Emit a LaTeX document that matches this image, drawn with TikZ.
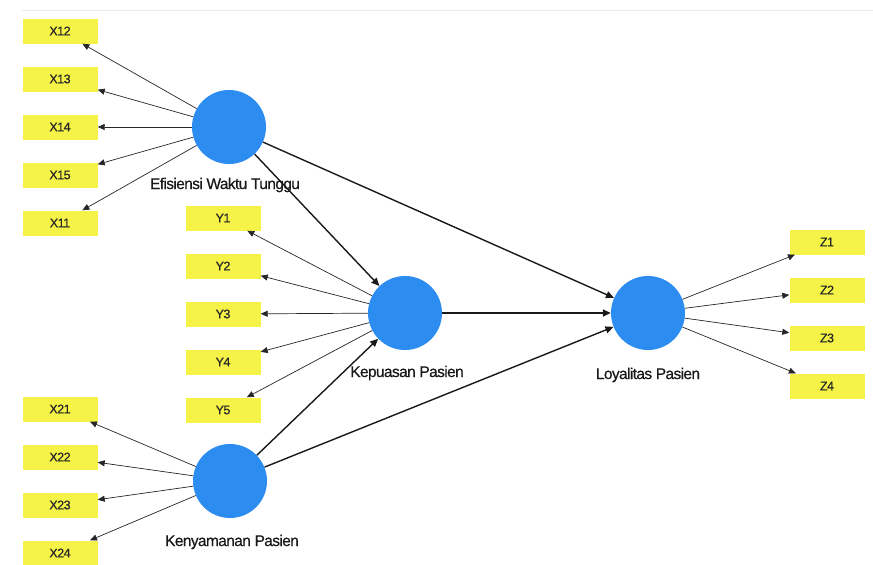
\documentclass[tikz,border=0pt]{standalone}
\usepackage{fontspec}
\setmainfont{Liberation Sans}
\usetikzlibrary{arrows.meta}
\definecolor{ind}{RGB}{245,243,72}
\definecolor{lat}{RGB}{45,140,240}
\begin{document}
\begin{tikzpicture}[x=1pt,y=-1pt,
 indbox/.style={fill=ind, minimum width=75pt, minimum height=25pt, inner sep=0pt, text=black!85, font=\fontsize{12.5}{14}\selectfont\addfontfeature{FakeBold=0.4,LetterSpace=-4}},
 latent/.style={circle, fill=lat, minimum size=74pt, inner sep=0pt},
 latlabel/.style={text=black!90, font=\fontsize{15.5}{18}\selectfont\addfontfeature{FakeBold=0.6,LetterSpace=-4}},
 meas/.style={-{Triangle[length=7pt,width=6pt]}, line width=0.7pt, draw=black!85},
 struct/.style={-{Triangle[length=8pt,width=7pt]}, line width=1.4pt, draw=black!90},
]
\useasboundingbox (0,0) rectangle (873,565);
\draw[black!8, line width=1pt] (22,10) -- (873,10);

% latent variables
\node[latent] (E) at (229,127) {};
\node[latent] (K) at (405,313) {};
\node[latent] (L) at (648,313) {};
\node[latent] (N) at (230,481) {};
\node[latlabel] (El) at (225,185) {Efisiensi Waktu Tunggu};
\node[latlabel] (Kl) at (407,373) {Kepuasan Pasien};
\node[latlabel] (Ll) at (648,375) {Loyalitas Pasien};
\node[latlabel] (Nl) at (232,542) {Kenyamanan Pasien};

% indicators
\node[indbox] (X12) at (60,31) {X12};
\node[indbox] (X13) at (60,79) {X13};
\node[indbox] (X14) at (60,127) {X14};
\node[indbox] (X15) at (60,175) {X15};
\node[indbox] (X11) at (60,223) {X11};
\node[indbox] (X21) at (60,409) {X21};
\node[indbox] (X22) at (60,457) {X22};
\node[indbox] (X23) at (60,505) {X23};
\node[indbox] (X24) at (60,553) {X24};
\node[indbox] (Y1) at (223,218) {Y1};
\node[indbox] (Y2) at (223,266) {Y2};
\node[indbox] (Y3) at (223,314) {Y3};
\node[indbox] (Y4) at (223,362) {Y4};
\node[indbox] (Y5) at (223,410) {Y5};
\node[indbox] (Z1) at (827,242) {Z1};
\node[indbox] (Z2) at (827,290) {Z2};
\node[indbox] (Z3) at (827,338) {Z3};
\node[indbox] (Z4) at (827,386) {Z4};

% measurement arrows
\foreach \t in {X12,X13,X14,X15,X11} \draw[meas] (E) -- (\t);
\foreach \t in {X21,X22,X23,X24} \draw[meas] (N) -- (\t);
\foreach \t in {Y1,Y2,Y3,Y4,Y5} \draw[meas] (K) -- (\t);
\foreach \t in {Z1,Z2,Z3,Z4} \draw[meas] (L) -- (\t);

% structural arrows
\draw[struct] (E) -- (K);
\draw[struct] (E) -- (L);
\draw[struct] (K) -- (L);
\draw[struct] (N) -- (K);
\draw[struct] (N) -- (L);
\end{tikzpicture}
\end{document}
